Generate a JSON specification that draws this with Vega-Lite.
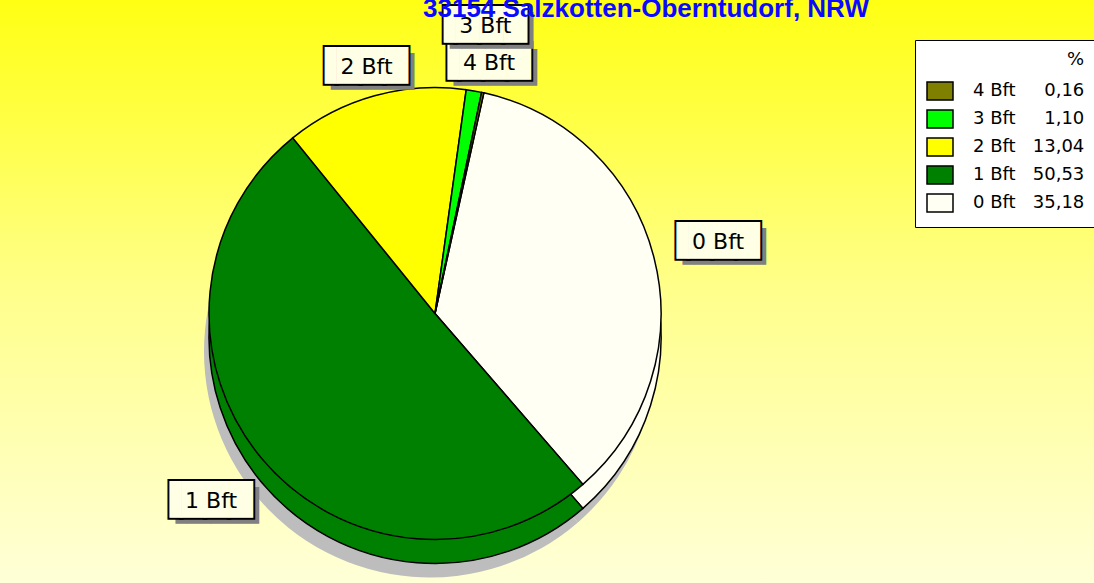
{
  "$schema": "https://vega.github.io/schema/vega-lite/v6.json",
  "width": 1094,
  "height": 583,
  "autosize": {"type": "none"},
  "padding": 0,
  "background": "#ffff14",
  "title": {
    "text": "33154 Salzkotten-Oberntudorf, NRW",
    "font": "Liberation Sans",
    "fontSize": 26,
    "fontWeight": "bold",
    "color": "#0a0aff",
    "anchor": "middle",
    "baseline": "alphabetic",
    "dx": 99,
    "dy": 43,
    "offset": 0,
    "zindex": 1
  },
  "data": {
    "values": [
      {"bft": "0 Bft", "pct": 35.18, "idx": 0, "legend": "0 Bft\u00a0\u00a0\u00a035,18"},
      {"bft": "1 Bft", "pct": 50.53, "idx": 1, "legend": "1 Bft\u00a0\u00a0\u00a050,53"},
      {"bft": "2 Bft", "pct": 13.04, "idx": 2, "legend": "2 Bft\u00a0\u00a0\u00a013,04"},
      {"bft": "3 Bft", "pct": 1.10, "idx": 3, "legend": "3 Bft\u00a0\u00a0\u00a0\u00a0\u00a01,10"},
      {"bft": "4 Bft", "pct": 0.16, "idx": 4, "legend": "4 Bft\u00a0\u00a0\u00a0\u00a0\u00a00,16"}
    ]
  },
  "layer": [
    {
      "data": {"values": [{"bg": 1}]},
      "mark": {
        "type": "rect",
        "color": {
          "gradient": "linear", "x1": 0, "y1": 0, "x2": 0, "y2": 1,
          "stops": [
            {"offset": 0, "color": "#ffff14"},
            {"offset": 0.5, "color": "#ffff8c"},
            {"offset": 1, "color": "#ffffd8"}
          ]
        }
      },
      "encoding": {
        "x": {"value": 0}, "x2": {"value": "width"},
        "y": {"value": 0}, "y2": {"value": "height"}
      }
    },
    {
      "mark": {"type": "arc", "radius": 226, "color": "#bdbdbd", "xOffset": -117, "yOffset": 60},
      "encoding": {
        "theta": {"field": "pct", "type": "quantitative", "stack": true, "scale": {"range": [0.218, 6.501]}},
        "detail": {"field": "bft"},
        "order": {"field": "idx"}
      }
    },
    {
      "mark": {"type": "arc", "radius": 226, "stroke": "black", "strokeWidth": 1.5, "xOffset": -112, "yOffset": 46},
      "encoding": {
        "theta": {"field": "pct", "type": "quantitative", "stack": true},
        "color": {"field": "legend", "type": "nominal"},
        "order": {"field": "idx"}
      }
    },
    {
      "mark": {"type": "arc", "radius": 226, "stroke": "black", "strokeWidth": 1.5, "xOffset": -112, "yOffset": 22},
      "encoding": {
        "theta": {"field": "pct", "type": "quantitative", "stack": true},
        "color": {
          "field": "legend", "type": "nominal",
          "scale": {
            "domain": ["4 Bft\u00a0\u00a0\u00a0\u00a0\u00a00,16", "3 Bft\u00a0\u00a0\u00a0\u00a0\u00a01,10", "2 Bft\u00a0\u00a0\u00a013,04", "1 Bft\u00a0\u00a0\u00a050,53", "0 Bft\u00a0\u00a0\u00a035,18"],
            "range": ["#808000", "#00ff00", "#ffff00", "#008000", "#fffff4"]
          },
          "legend": {
            "title": "%",
            "orient": "none",
            "legendX": 915,
            "legendY": 40,
            "titleAnchor": "end",
            "titleFont": "DejaVu Sans",
            "titleFontSize": 18,
            "titleFontWeight": "normal",
            "titleColor": "black",
            "titlePadding": 8,
            "labelFont": "DejaVu Sans",
            "labelFontSize": 18,
            "labelColor": "black",
            "labelOffset": 19,
            "symbolType": "M-1,-0.7H1V0.7H-1Z",
            "symbolSize": 676,
            "symbolStrokeColor": "black",
            "symbolStrokeWidth": 1.5,
            "symbolOpacity": 1,
            "rowPadding": 1,
            "padding": 11,
            "fillColor": "white",
            "strokeColor": "black"
          }
        },
        "order": {"field": "idx"}
      }
    },
    {
      "mark": {"type": "text", "font": "DejaVu Sans", "fontSize": 31, "color": "#808080", "align": "center", "baseline": "middle", "radius": 256, "xOffset": -112, "yOffset": 22, "dx": 0, "dy": 6},
      "encoding": {
        "theta": {"field": "pct", "type": "quantitative", "stack": true},
        "text": {"condition": {"test": "datum.bft == '2 Bft' || datum.bft == '4 Bft'", "value": "▐███"}, "value": ""},
        "detail": {"field": "bft"},
        "order": {"field": "idx"}
      }
    },
    {
      "mark": {"type": "text", "font": "DejaVu Sans", "fontSize": 31, "color": "#ffffe6", "stroke": "black", "strokeWidth": 4, "strokeJoin": "miter", "align": "center", "baseline": "middle", "radius": 256, "xOffset": -112, "yOffset": 22, "dx": -6},
      "encoding": {
        "theta": {"field": "pct", "type": "quantitative", "stack": true},
        "text": {"condition": {"test": "datum.bft == '2 Bft' || datum.bft == '4 Bft'", "value": "▐███"}, "value": ""},
        "detail": {"field": "bft"},
        "order": {"field": "idx"}
      }
    },
    {
      "mark": {"type": "text", "font": "DejaVu Sans", "fontSize": 31, "color": "#ffffe6", "align": "center", "baseline": "middle", "radius": 256, "xOffset": -112, "yOffset": 22, "dx": -6},
      "encoding": {
        "theta": {"field": "pct", "type": "quantitative", "stack": true},
        "text": {"condition": {"test": "datum.bft == '2 Bft' || datum.bft == '4 Bft'", "value": "▐███"}, "value": ""},
        "detail": {"field": "bft"},
        "order": {"field": "idx"}
      }
    },
    {
      "mark": {"type": "text", "font": "DejaVu Sans", "fontSize": 22, "color": "black", "align": "center", "baseline": "middle", "radius": 256, "xOffset": -112, "yOffset": 22},
      "encoding": {
        "theta": {"field": "pct", "type": "quantitative", "stack": true},
        "text": {"condition": {"test": "datum.bft == '2 Bft' || datum.bft == '4 Bft'", "field": "bft"}, "value": ""},
        "detail": {"field": "bft"},
        "order": {"field": "idx"}
      }
    },
    {
      "mark": {"type": "text", "font": "DejaVu Sans", "fontSize": 31, "color": "#808080", "align": "center", "baseline": "middle", "radius": 292, "xOffset": -112, "yOffset": 22, "dx": 0, "dy": 6},
      "encoding": {
        "theta": {"field": "pct", "type": "quantitative", "stack": true},
        "text": {"condition": {"test": "datum.bft == '0 Bft' || datum.bft == '1 Bft' || datum.bft == '3 Bft'", "value": "▐███"}, "value": ""},
        "detail": {"field": "bft"},
        "order": {"field": "idx"}
      }
    },
    {
      "mark": {"type": "text", "font": "DejaVu Sans", "fontSize": 31, "color": "#ffffe6", "stroke": "black", "strokeWidth": 4, "strokeJoin": "miter", "align": "center", "baseline": "middle", "radius": 292, "xOffset": -112, "yOffset": 22, "dx": -6},
      "encoding": {
        "theta": {"field": "pct", "type": "quantitative", "stack": true},
        "text": {"condition": {"test": "datum.bft == '0 Bft' || datum.bft == '1 Bft' || datum.bft == '3 Bft'", "value": "▐███"}, "value": ""},
        "detail": {"field": "bft"},
        "order": {"field": "idx"}
      }
    },
    {
      "mark": {"type": "text", "font": "DejaVu Sans", "fontSize": 31, "color": "#ffffe6", "align": "center", "baseline": "middle", "radius": 292, "xOffset": -112, "yOffset": 22, "dx": -6},
      "encoding": {
        "theta": {"field": "pct", "type": "quantitative", "stack": true},
        "text": {"condition": {"test": "datum.bft == '0 Bft' || datum.bft == '1 Bft' || datum.bft == '3 Bft'", "value": "▐███"}, "value": ""},
        "detail": {"field": "bft"},
        "order": {"field": "idx"}
      }
    },
    {
      "mark": {"type": "text", "font": "DejaVu Sans", "fontSize": 22, "color": "black", "align": "center", "baseline": "middle", "radius": 292, "xOffset": -112, "yOffset": 22},
      "encoding": {
        "theta": {"field": "pct", "type": "quantitative", "stack": true},
        "text": {"condition": {"test": "datum.bft == '0 Bft' || datum.bft == '1 Bft' || datum.bft == '3 Bft'", "field": "bft"}, "value": ""},
        "detail": {"field": "bft"},
        "order": {"field": "idx"}
      }
    }
  ],
  "config": {"view": {"stroke": null}}
}
